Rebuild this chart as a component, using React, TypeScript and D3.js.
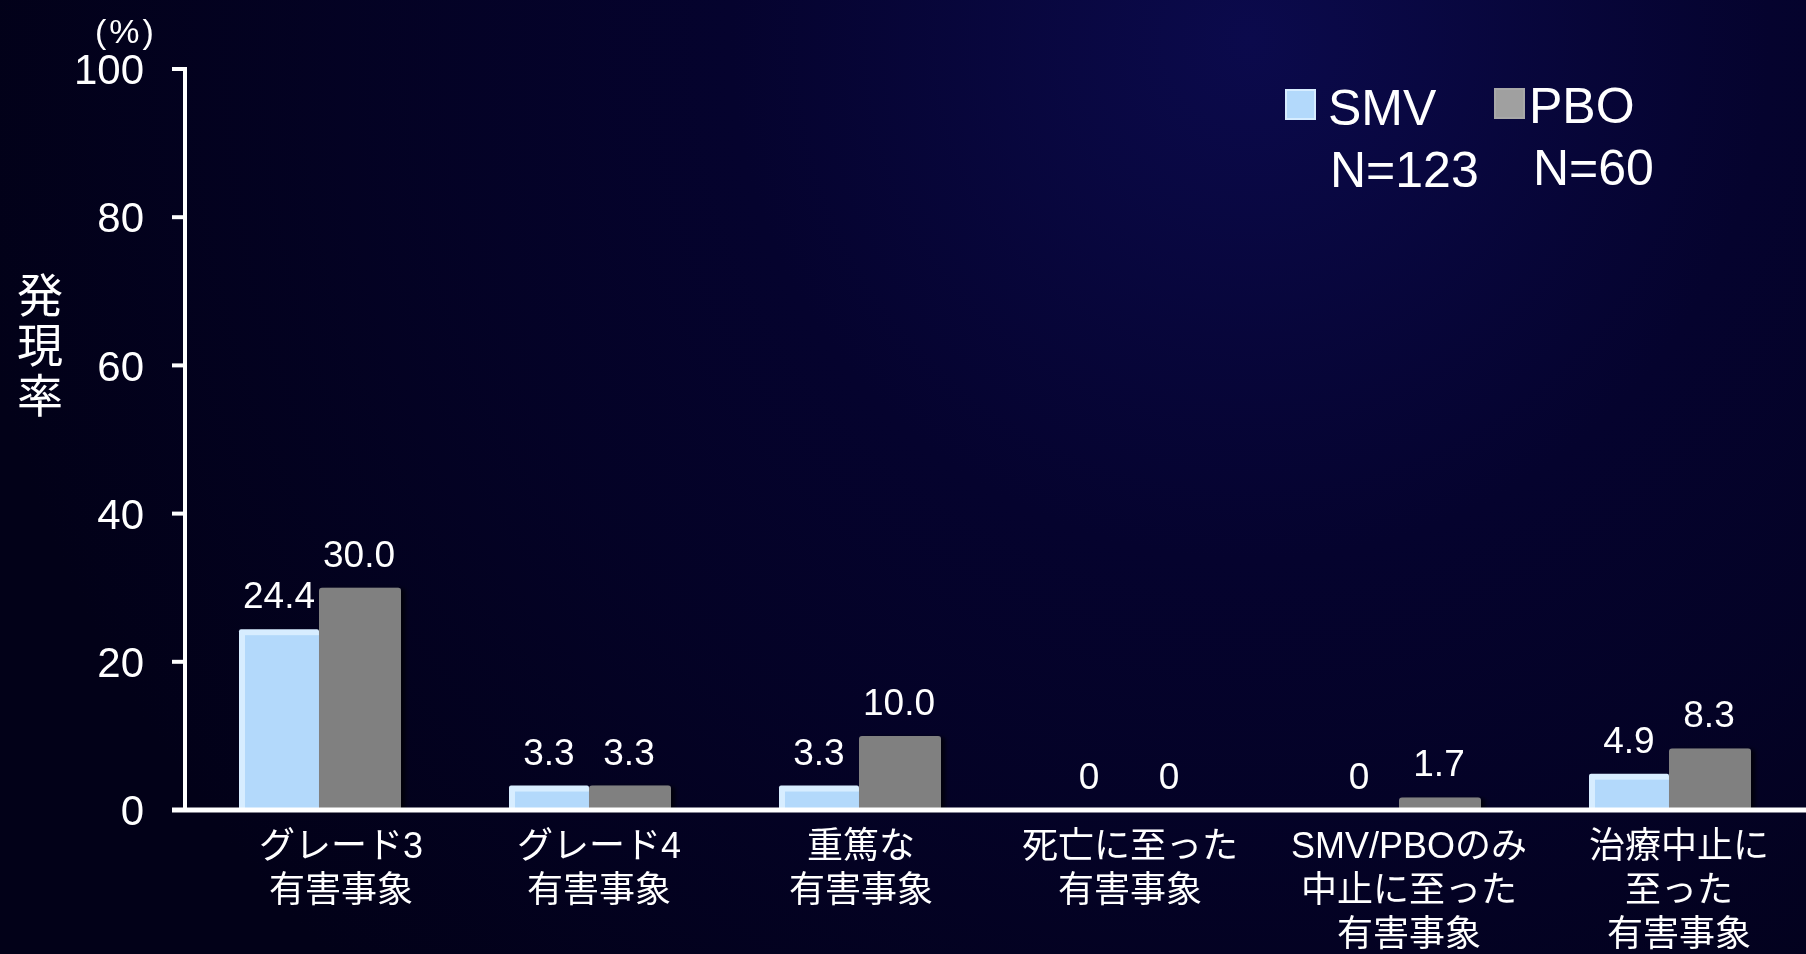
import React, { useEffect, useRef } from 'react';
import * as d3 from 'd3';

// Adverse event incidence by category (%), SMV vs PBO
const categories: string[][] = [
  ['グレード3', '有害事象'],
  ['グレード4', '有害事象'],
  ['重篤な', '有害事象'],
  ['死亡に至った', '有害事象'],
  ['SMV/PBOのみ', '中止に至った', '有害事象'],
  ['治療中止に', '至った', '有害事象'],
];
const smvValues = [24.4, 3.3, 3.3, 0, 0, 4.9];
const pboValues = [30.0, 3.3, 10.0, 0, 1.7, 8.3];
const yTicks = [0, 20, 40, 60, 80, 100];
const seriesNames = ['SMV', 'PBO'];
const seriesCounts = ['N=123', 'N=60'];
const yTitle = '発現率';

const W = 1806;
const H = 954;
const LATIN = "'Liberation Sans', Arial, 'Noto Sans CJK JP', sans-serif";
const CJK = "'Liberation Sans', 'Noto Sans CJK JP', sans-serif";
// small horizontal nudges for the category captions
const captionShift = [22, 10, 2, 1, 10, 10];

const fmt = (v: number) => (v === 0 ? '0' : v.toFixed(1));

export default function App() {
  const ref = useRef<SVGSVGElement | null>(null);

  useEffect(() => {
    const svg = d3.select(ref.current);
    svg.selectAll('*').remove();

    const defs = svg.append('defs');
    const bg = defs
      .append('radialGradient')
      .attr('id', 'bg')
      .attr('gradientUnits', 'userSpaceOnUse')
      .attr('cx', 1250)
      .attr('cy', 40)
      .attr('r', 1300);
    bg.append('stop').attr('offset', 0).attr('stop-color', '#0b0a4c');
    bg.append('stop').attr('offset', 0.4).attr('stop-color', '#05032e');
    bg.append('stop').attr('offset', 1).attr('stop-color', '#020118');

    const shadow = defs.append('filter').attr('id', 'shadow').attr('x', '-10%').attr('y', '-10%').attr('width', '130%').attr('height', '130%');
    shadow
      .append('feDropShadow')
      .attr('dx', 4)
      .attr('dy', 1)
      .attr('stdDeviation', 2)
      .attr('flood-color', '#000000')
      .attr('flood-opacity', 0.7);

    svg.append('rect').attr('width', W).attr('height', H).attr('fill', 'url(#bg)');

    const y = d3.scaleLinear().domain([0, 100]).range([810, 69]);
    const x = d3
      .scaleBand<number>()
      .domain(categories.map((_, i) => i))
      .range([184, 1804])
      .paddingInner(0.4074)
      .paddingOuter(0.2037);
    const xs = d3.scaleBand<string>().domain(seriesNames).range([0, x.bandwidth()]);

    const g = svg.append('g');

    // bars
    categories.forEach((_, i) => {
      const gx = x(i)!;
      const sv = smvValues[i];
      const pv = pboValues[i];
      const bw = xs.bandwidth();
      if (sv > 0) {
        const bx = gx + xs('SMV')!;
        const top = y(sv);
        const h = y(0) - top;
        g.append('rect')
          .attr('x', bx)
          .attr('y', top)
          .attr('width', bw)
          .attr('height', h)
          .attr('rx', 2)
          .attr('fill', '#d7edff');
        g.append('rect')
          .attr('x', bx + 6)
          .attr('y', top + 6)
          .attr('width', bw - 6)
          .attr('height', Math.max(0, h - 6))
          .attr('fill', '#b3d9fb');
      }
      if (pv > 0) {
        const bx = gx + xs('PBO')!;
        g.append('rect')
          .attr('x', bx)
          .attr('y', y(pv))
          .attr('width', bw + 2)
          .attr('height', y(0) - y(pv))
          .attr('rx', 3)
          .attr('fill', '#808080')
          .attr('filter', 'url(#shadow)');
      }
    });

    // value labels
    categories.forEach((_, i) => {
      const gx = x(i)!;
      const bw = xs.bandwidth();
      [
        { s: 'SMV', v: smvValues[i] },
        { s: 'PBO', v: pboValues[i] },
      ].forEach(({ s, v }) => {
        g.append('text')
          .attr('x', gx + xs(s)! + bw / 2)
          .attr('y', y(v) - 21)
          .attr('text-anchor', 'middle')
          .attr('font-family', LATIN)
          .attr('font-size', 37)
          .attr('fill', '#ffffff')
          .text(fmt(v));
      });
    });

    // axes
    const axisColor = '#ffffff';
    g.append('line')
      .attr('x1', 185)
      .attr('x2', 185)
      .attr('y1', y(100) - 2)
      .attr('y2', y(0) + 2)
      .attr('stroke', axisColor)
      .attr('stroke-width', 4);
    yTicks.forEach((t) => {
      g.append('line')
        .attr('x1', 172)
        .attr('x2', 185)
        .attr('y1', y(t))
        .attr('y2', y(t))
        .attr('stroke', axisColor)
        .attr('stroke-width', 4);
      g.append('text')
        .attr('x', 144)
        .attr('y', y(t))
        .attr('dy', '0.36em')
        .attr('text-anchor', 'end')
        .attr('font-family', LATIN)
        .attr('font-size', 42)
        .attr('fill', '#ffffff')
        .text(t);
    });
    g.append('line')
      .attr('x1', 172)
      .attr('x2', W)
      .attr('y1', y(0))
      .attr('y2', y(0))
      .attr('stroke', axisColor)
      .attr('stroke-width', 5);

    // category labels
    categories.forEach((lines, i) => {
      const cx = x(i)! + x.bandwidth() / 2 + captionShift[i];
      const t = g
        .append('text')
        .attr('text-anchor', 'middle')
        .attr('font-family', CJK)
        .attr('font-size', 36)
        .attr('fill', '#ffffff');
      lines.forEach((ln, k) => {
        t.append('tspan')
          .attr('x', cx)
          .attr('y', 845 + k * 44)
          .attr('dy', '0.36em')
          .text(ln);
      });
    });

    // y title, set vertically
    g.append('text')
      .attr('x', 40)
      .attr('y', 272)
      .attr('writing-mode', 'vertical-rl')
      .attr('text-anchor', 'start')
      .attr('font-family', "'Noto Sans CJK JP', sans-serif")
      .attr('font-size', 46)
      .attr('letter-spacing', 4)
      .attr('fill', '#ffffff')
      .text(yTitle);

    // unit
    g.append('text')
      .attr('x', 126)
      .attr('y', 43)
      .attr('text-anchor', 'middle')
      .attr('font-family', LATIN)
      .attr('font-size', 34)
      .attr('letter-spacing', 3)
      .attr('fill', '#ffffff')
      .text('(%)');

    // legend
    const legend = [
      { sx: 1286, sy: 90, tx: 1328, ty: 125, nx: 1330, ny: 187, fill: '#b3d9fb', stroke: '#d7edff' },
      { sx: 1495, sy: 89, tx: 1529, ty: 123, nx: 1533, ny: 185, fill: '#a0a0a0', stroke: '#a8a8a8' },
    ];
    legend.forEach((l, k) => {
      g.append('rect')
        .attr('x', l.sx)
        .attr('y', l.sy)
        .attr('width', 29)
        .attr('height', 29)
        .attr('fill', l.fill)
        .attr('stroke', l.stroke)
        .attr('stroke-width', 2);
      g.append('text')
        .attr('x', l.tx)
        .attr('y', l.ty)
        .attr('font-family', LATIN)
        .attr('font-size', 50)
        .attr('fill', '#ffffff')
        .text(seriesNames[k]);
      g.append('text')
        .attr('x', l.nx)
        .attr('y', l.ny)
        .attr('font-family', LATIN)
        .attr('font-size', 50)
        .attr('fill', '#ffffff')
        .text(seriesCounts[k]);
    });
  }, []);

  return (
    <svg
      ref={ref}
      width={W}
      height={H}
      style={{ position: 'fixed', left: 0, top: 0, display: 'block' }}
    />
  );
}
